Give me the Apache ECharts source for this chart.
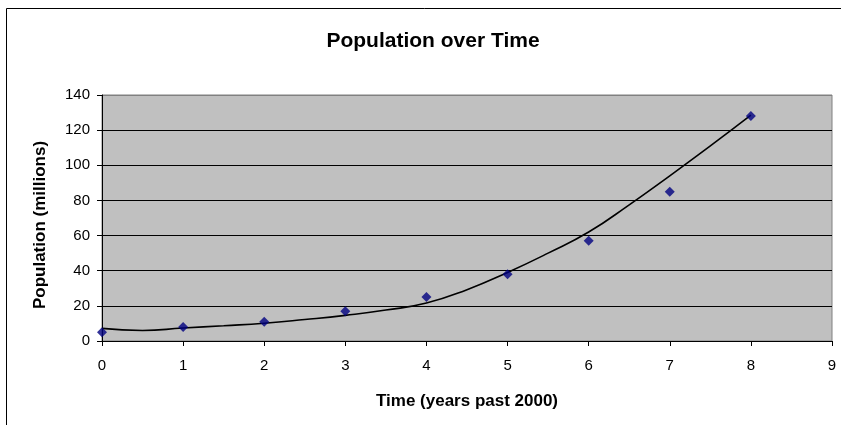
<!DOCTYPE html>
<html>
<head>
<meta charset="utf-8">
<script src="https://cdn.jsdelivr.net/npm/echarts@6/dist/echarts.min.js"></script>
<style>
  html, body { margin: 0; padding: 0; background: #fff; }
  #chart { width: 841px; height: 425px; }
</style>
</head>
<body>
<div id="chart"></div>
<script>
// Observed population, one value per year since 2000
const years = [0, 1, 2, 3, 4, 5, 6, 7, 8];
const population = [5, 8, 11, 17, 25, 38, 57, 85, 128];

// Fitted trend curve, sampled every half year
const trendYears = [0, 0.5, 1, 1.5, 2, 2.5, 3, 3.5, 4, 4.5, 5, 5.5, 6, 6.5, 7, 7.5, 8];
const trendValues = [7.2, 6.0, 7.4, 8.7, 10.1, 12.2, 14.6, 17.6, 21.6, 29.2, 39, 50, 62, 77.5, 94, 111, 128.5];

const font = '"Liberation Sans", Arial, sans-serif';

const chart = echarts.init(document.getElementById('chart'), null, { renderer: 'canvas' });
chart.setOption({
  animation: false,
  backgroundColor: '#fff',
  title: {
    text: 'Population over Time',
    left: 428,
    top: 26,
    textAlign: 'center',
    textStyle: { fontFamily: font, fontSize: 21, fontWeight: 'bold', color: '#000' }
  },
  graphic: [{
    type: 'rect',
    shape: { x: 6.5, y: 8.5, width: 1000, height: 1000 },
    style: { fill: 'none', stroke: '#000', lineWidth: 1 },
    silent: true
  }],
  grid: {
    left: 102, right: 9, top: 95, bottom: 84,
    show: true,
    backgroundColor: '#C0C0C0',
    borderColor: '#808080',
    borderWidth: 1
  },
  xAxis: {
    type: 'value',
    min: 0, max: 9, interval: 1,
    name: 'Time (years past 2000)',
    nameLocation: 'middle',
    nameGap: 52,
    nameTextStyle: { fontFamily: font, fontSize: 17, fontWeight: 'bold', color: '#000' },
    axisLine: { show: true, onZero: false, lineStyle: { color: '#000', width: 1 } },
    axisTick: { show: true, length: 5, lineStyle: { color: '#000' } },
    axisLabel: { fontFamily: font, fontSize: 15, color: '#000', margin: 17 },
    splitLine: { show: false }
  },
  yAxis: {
    type: 'value',
    min: 0, max: 140, interval: 20,
    name: 'Population (millions)',
    nameLocation: 'middle',
    nameGap: 53,
    nameTextStyle: { fontFamily: font, fontSize: 17, fontWeight: 'bold', color: '#000', padding: [0, 14, 0, 0] },
    axisLine: { show: true, lineStyle: { color: '#000', width: 1 } },
    axisTick: { show: true, length: 5, lineStyle: { color: '#000' } },
    axisLabel: { fontFamily: font, fontSize: 15, color: '#000', margin: 12 },
    splitLine: {
      show: true,
      lineStyle: { color: ['#000', '#000', '#000', '#000', '#000', '#000', '#000', '#808080'], width: 1 }
    }
  },
  series: [
    {
      type: 'line',
      data: trendYears.map((x, i) => [x, trendValues[i]]),
      smooth: true,
      showSymbol: false,
      lineStyle: { color: '#000', width: 1.6 },
      z: 2
    },
    {
      type: 'scatter',
      data: years.map((x, i) => [x, population[i]]),
      symbol: 'diamond',
      symbolSize: 10,
      itemStyle: { color: '#000080' },
      z: 3
    }
  ]
});
</script>
</body>
</html>
